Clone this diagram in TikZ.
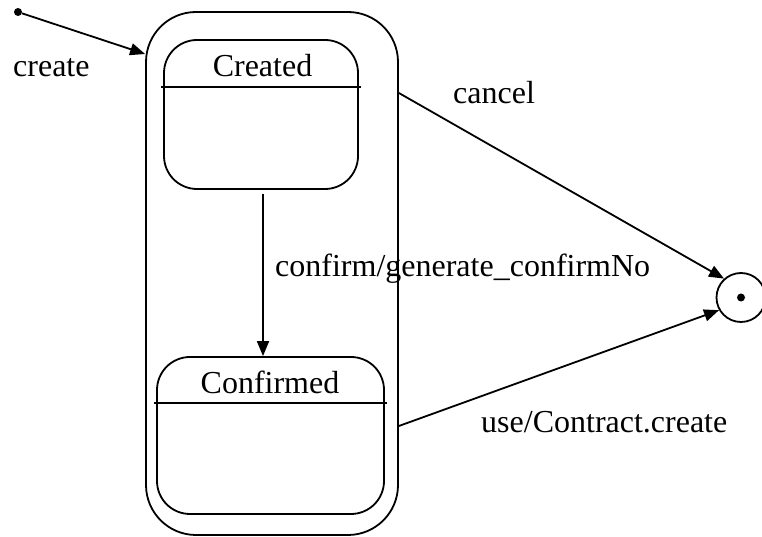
\documentclass[tikz,border=0pt]{standalone}
\usepackage{fontspec}
\setmainfont{Liberation Serif}
\usetikzlibrary{arrows.meta,positioning}

\tikzset{
    superstate/.style={draw,line width=1.8pt,rounded corners=50pt,
        minimum width=252pt,minimum height=523pt,inner sep=0pt},
    statebox/.style={draw,line width=1.8pt,rounded corners=33pt,inner sep=0pt},
    trans/.style={line width=1.8pt,-{Triangle[length=15pt,width=12pt]}},
    lbl/.style={inner sep=0pt,font=\fontsize{32}{38}\selectfont}
}

\begin{document}
\begin{tikzpicture}[x=1pt,y=1pt]
        \useasboundingbox (0,0) rectangle (762,537);

        % draw the composite state and its two sub-states
        \node[superstate] (outer) at (272,263.5) {};
        \node[statebox,minimum width=194pt,minimum height=149pt] (created) at (261,422.5) {};
        \node[statebox,minimum width=227pt,minimum height=157pt] (confirmed) at (270.5,101.5) {};

        % name compartments
        \draw[line width=1.8pt] ([xshift=-2pt,yshift=-48pt]created.north west) -- ([xshift=2pt,yshift=-48pt]created.north east);
        \draw[line width=1.8pt] ([xshift=-2pt,yshift=-47pt]confirmed.north west) -- ([xshift=2pt,yshift=-47pt]confirmed.north east);
        \node[lbl,anchor=base] (createdname) at (262.5,460) {Created};
        \node[lbl,anchor=base] (confirmedname) at (270,143) {Confirmed};

        % initial and final pseudo states
        \node[circle,fill=black,inner sep=0pt,minimum size=8pt] (init) at (18,525) {};
        \node[circle,draw,line width=1.8pt,inner sep=0pt,minimum size=49pt] (final) at (741,239.5) {};
        \node[circle,fill=black,inner sep=0pt,minimum size=8pt] (finaldot) at (final) {};

        % draw the transitions
        \draw[trans] (init) -- ([yshift=219.5pt]outer.west);
        \draw[trans] ([xshift=2pt,yshift=-4pt]created.south) -- ([xshift=2pt]created.south |- confirmed.north);
        \draw[trans] ([yshift=180.5pt]outer.east) -- (final.132);
        \draw[trans] ([yshift=-152.5pt]outer.east) -- (final.210);

        % transition labels
        \node[lbl,anchor=base west] (createlbl) at (13,460) {create};
        \node[lbl,anchor=base west] (cancellbl) at (453,433) {cancel};
        \node[lbl,anchor=base west] (confirmlbl) at (275,260) {confirm/generate\_confirmNo};
        \node[lbl,anchor=base west] (uselbl) at (481,104) {use/Contract.create};
\end{tikzpicture}
\end{document}
